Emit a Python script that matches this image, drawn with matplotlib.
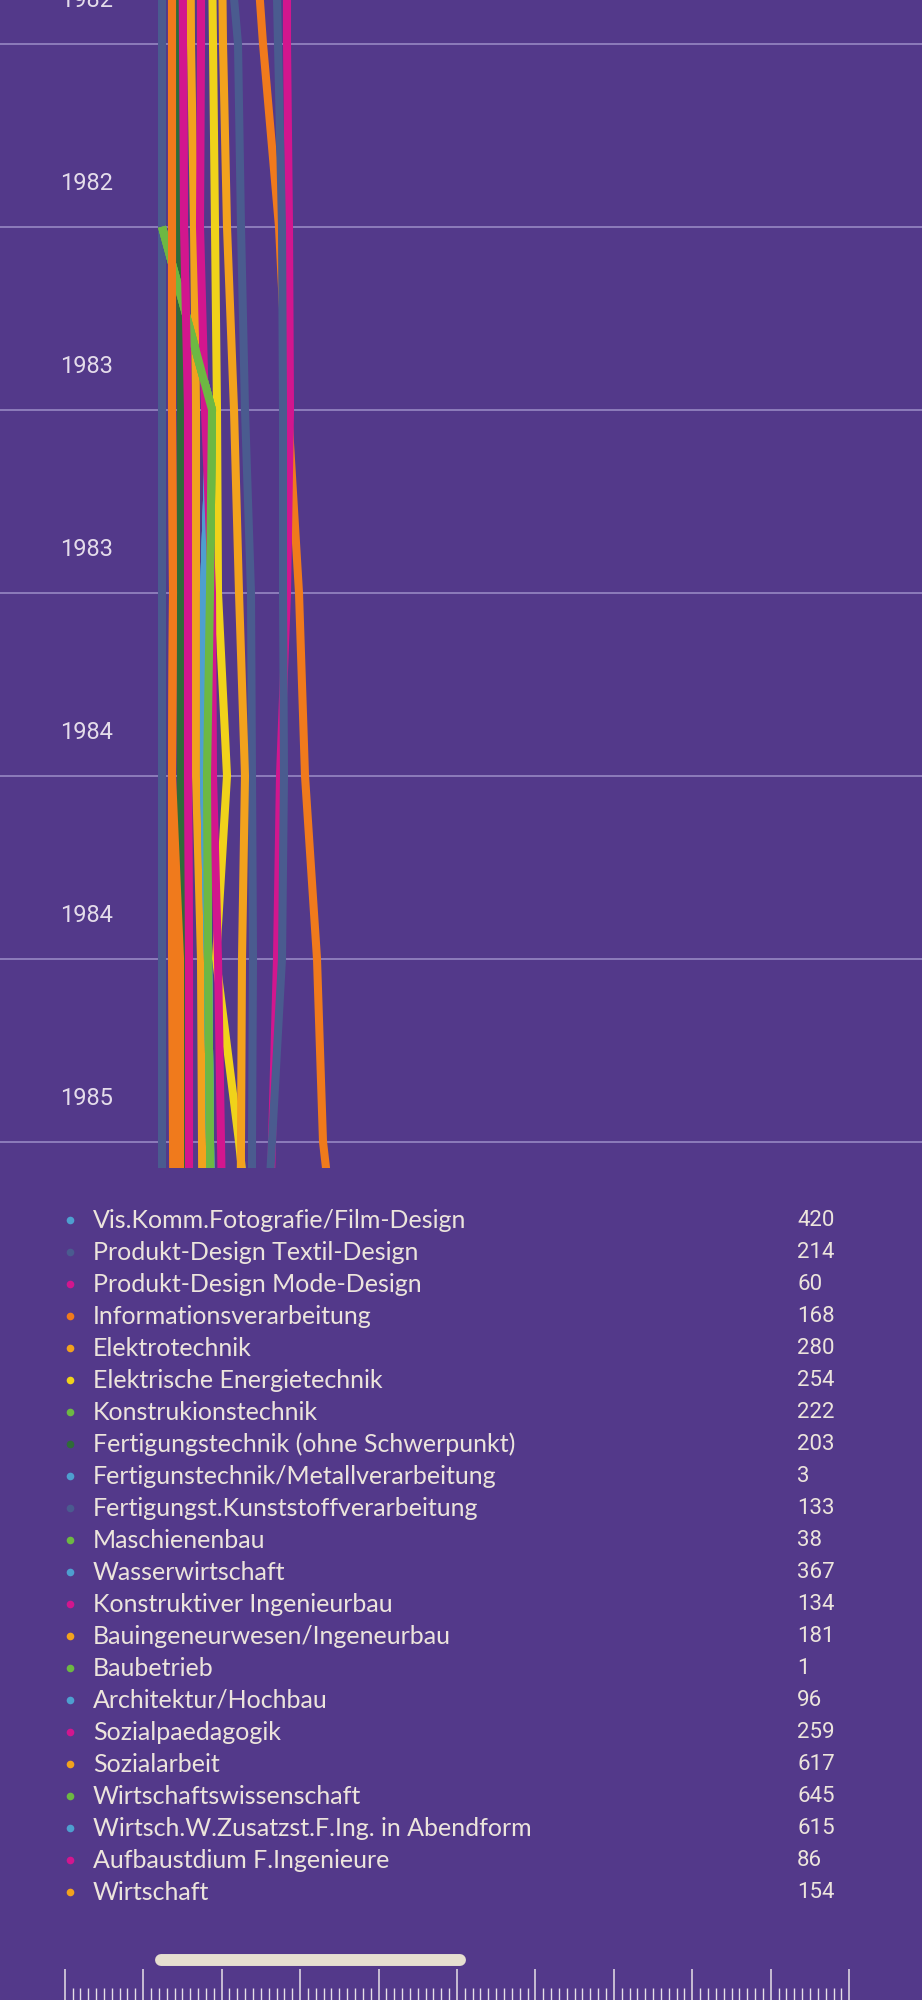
import numpy as np
import matplotlib
matplotlib.use("Agg")
import matplotlib.pyplot as plt
from matplotlib.lines import Line2D

# data
names = [
    "Vis.Komm.Fotografie/Film-Design", "Produkt-Design Textil-Design",
    "Produkt-Design Mode-Design", "Informationsverarbeitung", "Elektrotechnik",
    "Elektrische Energietechnik", "Konstrukionstechnik",
    "Fertigungstechnik (ohne Schwerpunkt)", "Fertigunstechnik/Metallverarbeitung",
    "Fertigungst.Kunststoffverarbeitung", "Maschienenbau", "Wasserwirtschaft",
    "Konstruktiver Ingenieurbau", "Bauingeneurwesen/Ingeneurbau", "Baubetrieb",
    "Architektur/Hochbau", "Sozialpaedagogik", "Sozialarbeit",
    "Wirtschaftswissenschaft", "Wirtsch.W.Zusatzst.F.Ing. in Abendform",
    "Aufbaustdium F.Ingenieure", "Wirtschaft",
]
totals = [420, 214, 60, 168, 280, 254, 222, 203, 3, 133, 38, 367, 134, 181,
          1, 96, 259, 617, 645, 615, 86, 154]

# months after Jan 1982 where each series has a point
months = [-4.5, 1.5, 7.5, 13.5, 19.5, 25.5, 31.5, 37.5, 43.5]
tick_months = [0, 6, 12, 18, 24, 30, 36]

N = None
tracks = [
    [N, N, N, 1050, 1020, 1020, 1040, 1050, 1060],               # Vis.Komm
    [1110, 1190, 1205, 1225, 1255, 1260, 1265, 1260, 1260],      # Textil
    [910, 915, 920, 940, 940, 940, 945, 945, 945],               # Mode
    [1250, 1315, 1395, 1440, 1495, 1525, 1585, 1615, 1720],      # Informationsverarb.
    [950, 955, 970, 980, 980, 980, 1005, 1010, 1015],            # Elektrotechnik
    [1055, 1065, 1075, 1085, 1090, 1135, 1080, 1195, 1290],      # Energietechnik
    [N, N, 810, 1060, 1050, 1035, 1040, 1050, 1055],             # Konstrukion
    [900, 900, 900, 905, 905, 905, 905, 910, 910],               # Fertigungstechnik
    [N, N, N, 1050, 1020, 1020, 1040, 1050, 1060],               # Metall
    [810, 810, 810, 810, 810, 810, 810, 810, 810],               # Kunststoff
    [N, N, 810, 1060, 1050, 1035, 1040, 1050, 1055],             # Maschienenbau
    [N, N, N, 1050, 1020, 1020, 1040, 1050, 1060],               # Wasserwirtschaft
    [1435, 1435, 1445, 1450, 1435, 1400, 1385, 1360, 1335],      # Konstruktiver
    [1105, 1115, 1135, 1170, 1195, 1225, 1210, 1205, 1200],      # Bauingenieurwesen
    [N, N, 810, 1060, 1050, 1035, 1040, 1050, 1055],             # Baubetrieb
    [N, N, N, 1050, 1020, 1020, 1040, 1050, 1060],               # Architektur
    [1005, 1005, 1000, 1025, 1060, 1065, 1090, 1105, 1120],      # Sozialpaedagogik
    [860, 860, 860, 860, 865, 860, 900, 900, 900],               # Sozialarbeit
    [N, N, 810, 1060, 1050, 1035, 1040, 1050, 1055],             # Wirtschaftswiss.
    [1370, 1390, 1410, 1415, 1415, 1420, 1410, 1360, 1310],      # Wirtsch.W.
    [910, 915, 920, 940, 940, 940, 945, 945, 945],               # Aufbaustudium
    [860, 860, 860, 860, 865, 860, 860, 865, 870],               # Wirtschaft
]

# colours
BG = "#53398a"
LB, SL, MG, OR, AM, YE, GR, DG = ("#4e9fcf", "#4a5b8f", "#d2168e", "#f07a1c",
                                  "#f2a21d", "#f0d21a", "#6db843", "#2f6b38")
dot_colors = [LB, SL, MG, OR, AM, YE, GR, DG, LB, SL, GR, LB, MG, AM, GR, LB,
              MG, AM, GR, LB, MG, AM]
line_colors = list(dot_colors)
line_colors[17] = OR
line_colors[19] = SL
line_colors[21] = OR
TXT = "#ece4dc"

W, H = 922, 2000
fig = plt.figure(figsize=(W / 100, H / 100), dpi=100, facecolor=BG)

# main chart, time running downwards
top_px, bot_px = -12, 1168
ax = fig.add_axes([0, 1 - bot_px / H, 1, (bot_px - top_px) / H])
ax.set_facecolor(BG)
px_per_month = 183 / 6
ax.set_ylim((bot_px + 2) / px_per_month, (top_px + 2) / px_per_month)
ax.set_xlim(0, 4610)

for i, tr in enumerate(tracks):
    y = np.array(tr, dtype=float)
    ax.plot(y, months, color=line_colors[i], lw=5.8, solid_capstyle="butt",
            solid_joinstyle="round", zorder=3 + i * 0.01)

ax.set_yticks(tick_months)
ax.set_yticklabels([str(1982 + m // 12) for m in tick_months])
ax.set_yticks([m + 1.5 for m in tick_months], minor=True)
ax.yaxis.grid(True, which="minor", color="#8d7cbb", lw=1.4)
ax.set_axisbelow(True)
ax.tick_params(axis="y", which="both", length=0)
ax.tick_params(axis="y", which="major", pad=-81.5, labelsize=17,
               labelcolor="#e4dcea")
for lab in ax.get_yticklabels():
    lab.set_fontfamily("Roboto")
ax.set_xticks([])
for s in ax.spines.values():
    s.set_visible(False)

# legend list
for i, (nm, tot) in enumerate(zip(names, totals)):
    yy = 1 - (1220 + 32 * i) / H
    fig.add_artist(Line2D([70 / W], [yy], marker="o", ms=5.5, mew=0,
                          color=dot_colors[i], ls=""))
    fig.text(93 / W, yy, nm, color=TXT, fontsize=18, family="Lato",
             va="center", ha="left")
    fig.text(797 / W, yy, str(tot), color=TXT, fontsize=16, family="Roboto",
             va="center", ha="left")

# ruler / slider at the bottom
rx0, rx1 = 64.7, 849.2
rax = fig.add_axes([rx0 / W, 0, (rx1 - rx0) / W, 60 / H])
rax.set_facecolor("none")
rax.set_xlim(0, 100)
rax.set_ylim(0, 60)
rax.set_xticks(range(0, 101, 10))
rax.set_xticks(range(0, 101), minor=True)
rax.tick_params(axis="x", which="major", direction="in", length=22.3,
                width=1.1, color="#e6dfe6", labelbottom=False)
rax.tick_params(axis="x", which="minor", direction="in", length=8.6,
                width=1.0, color="#e6dfe6")
rax.set_yticks([])
for s in rax.spines.values():
    s.set_visible(False)
rax.plot([12.3, 50.4], [40, 40], color="#e6dfd0", lw=8.6,
         solid_capstyle="round")

fig.savefig("out.png", dpi=100, facecolor=BG)
